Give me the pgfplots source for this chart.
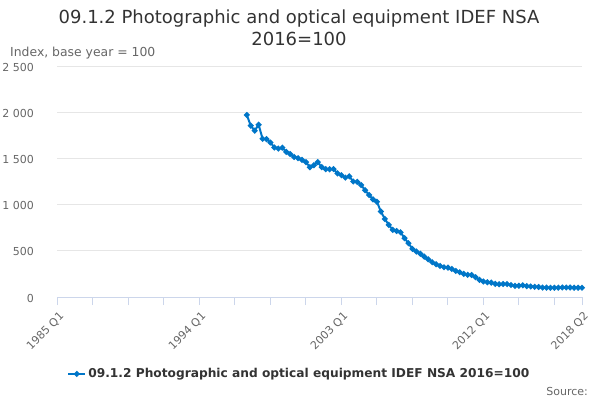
\documentclass[border=0pt]{standalone}
\usepackage{fontspec}
\setmainfont{DejaVu Sans}
\usepackage{pgfplots}
\pgfplotsset{compat=1.18}
\definecolor{serie}{RGB}{0,118,200}
\definecolor{gridc}{HTML}{E6E6E6}
\definecolor{axisc}{HTML}{CCD6EB}
\definecolor{lab}{HTML}{666666}
\definecolor{ttl}{HTML}{333333}
\begin{document}
\begin{tikzpicture}
\useasboundingbox (0,0) rectangle (600pt,400pt);
\node[anchor=base,font=\fontsize{18}{21}\selectfont,text=ttl,inner sep=0] at (299pt,376.5pt) {09.1.2 Photographic and optical equipment IDEF NSA};
\node[anchor=base,font=\fontsize{18}{21}\selectfont,text=ttl,inner sep=0] at (299pt,354.5pt) {2016=100};
\node[anchor=base west,font=\fontsize{12.4}{14}\selectfont,text=lab,inner sep=0] at (10pt,343.5pt) {Index, base year = 100};
\node[anchor=base east,font=\fontsize{11}{13}\selectfont,text=lab,inner sep=0] at (588pt,5pt) {Source:};
\begin{axis}[
  at={(57.5pt,103pt)}, anchor=south west, scale only axis,
  width=524.5pt, height=231pt,
  xmin=0, xmax=133, ymin=0, ymax=2500,
  clip=false,
  axis x line*=bottom, axis y line*=left,
  y axis line style={draw=none},
  x axis line style={draw=axisc, line width=1pt},
  ytick={0,500,...,2500},
  ymajorgrids, grid style={draw=gridc, line width=1pt},
  xtick={0,9,...,126,133},
  xticklabels={1985 Q1,,,,1994 Q1,,,,2003 Q1,,,,2012 Q1,,,2018 Q2},
  tick align=outside, major tick length=8pt,
  x tick style={draw=axisc, line width=1pt},
  y tick style={draw=none},
  /pgf/number format/assume math mode=true,
  /pgf/number format/1000 sep={\ },
  yticklabel style={anchor=east, xshift=-12pt, yshift=-1pt, font=\fontsize{11}{13}\selectfont, text=lab},
  xticklabel style={rotate=45, anchor=east, xshift=0pt, yshift=-10pt, font=\fontsize{11}{13}\selectfont, text=lab},
  legend style={at={(axis description cs:0.461,-0.333)}, anchor=center, draw=none, fill=none,
    font=\bfseries\fontsize{12.2}{14}\selectfont, text=ttl},
  legend cell align=left,
]
\addplot[color=serie, line width=2pt, mark=*, mark size=1.8pt, mark options={solid}] table {
x y
48 1970
49 1855
50 1800
51 1865
52 1712
53 1708
54 1672
55 1618
56 1606
57 1616
58 1570
59 1548
60 1516
61 1502
62 1484
63 1460
64 1405
65 1426
66 1460
67 1405
68 1384
69 1382
70 1385
71 1338
72 1318
73 1292
74 1306
75 1250
76 1246
77 1212
78 1156
79 1104
80 1057
81 1031
82 925
83 845
84 780
85 726
86 714
87 700
88 636
89 582
90 520
91 492
92 468
93 437
94 408
95 377
96 355
97 336
98 322
99 318
100 304
101 282
102 268
103 250
104 240
105 238
106 214
107 186
108 168
109 160
110 156
111 142
112 138
113 141
114 140
115 130
116 120
117 122
118 126
119 118
120 114
121 110
122 108
123 102
124 101
125 100
126 100
127 101
128 103
129 103
130 103
131 101
132 100
133 100
};
\addlegendentry{09.1.2 Photographic and optical equipment IDEF NSA 2016=100}
\end{axis}
\end{tikzpicture}
\end{document}
